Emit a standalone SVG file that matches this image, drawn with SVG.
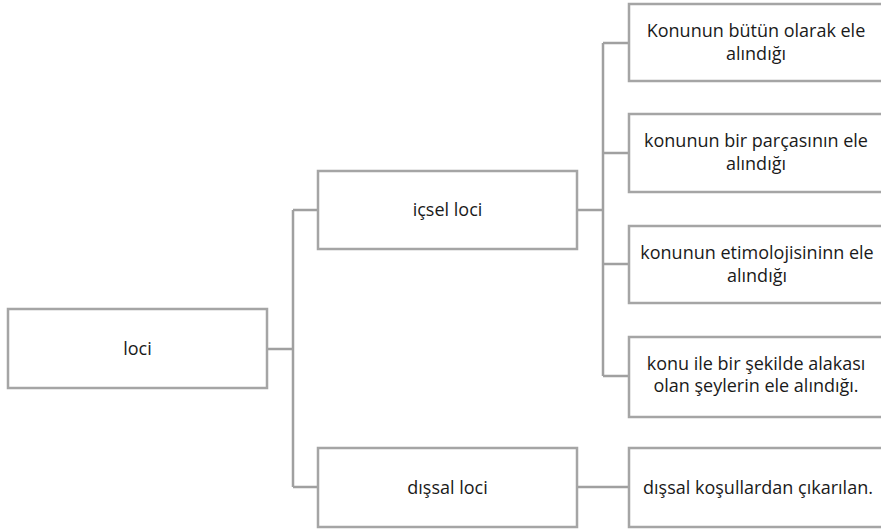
<svg xmlns="http://www.w3.org/2000/svg" width="881" height="529" viewBox="0 0 881 529">
  <style>
    .box { fill: #ffffff; stroke: #a5a5a5; stroke-width: 2.5; }
    .link { fill: none; stroke: #a0a0a0; stroke-width: 2.5; }
    text { font-family: "Open Sans", "Liberation Sans", sans-serif; font-size: 18px; fill: #1a1a1a; text-anchor: middle; }
  </style>
  <rect width="881" height="529" fill="#ffffff"/>

  <g id="connectors">
    <path class="link" d="M267 349 H293 M293 210 V487 M293 210 H318 M293 487 H318"/>
    <path class="link" d="M577 210 H603 M603 43 V376 M603 43 H629 M603 153 H629 M603 264 H629 M603 376 H629"/>
    <path class="link" d="M577 487 H629"/>
  </g>

  <g id="node-loci">
    <rect class="box" x="8" y="309" width="259" height="79"/>
    <text x="137.5" y="355">loci</text>
  </g>

  <g id="node-icsel">
    <rect class="box" x="318" y="171" width="259" height="78"/>
    <text x="447.5" y="216">içsel loci</text>
  </g>

  <g id="node-dissal">
    <rect class="box" x="318" y="448" width="259" height="79"/>
    <text x="447.5" y="494">dışsal loci</text>
  </g>

  <g id="node-butun">
    <rect class="box" x="629" y="4" width="262" height="77"/>
    <text x="756" y="37">Konunun bütün olarak ele</text>
    <text x="756" y="60">alındığı</text>
  </g>

  <g id="node-parca">
    <rect class="box" x="629" y="114" width="262" height="78"/>
    <text x="756" y="147">konunun bir parçasının ele</text>
    <text x="756" y="170">alındığı</text>
  </g>

  <g id="node-etimoloji">
    <rect class="box" x="629" y="226" width="262" height="77"/>
    <text x="757" y="259">konunun etimolojisininn ele</text>
    <text x="757" y="282">alındığı</text>
  </g>

  <g id="node-alaka">
    <rect class="box" x="629" y="337" width="262" height="80"/>
    <text x="756" y="370">konu ile bir şekilde alakası</text>
    <text x="756" y="392">olan şeylerin ele alındığı.</text>
  </g>

  <g id="node-kosul">
    <rect class="box" x="629" y="448" width="262" height="79"/>
    <text x="758" y="494">dışsal koşullardan çıkarılan.</text>
  </g>
</svg>
